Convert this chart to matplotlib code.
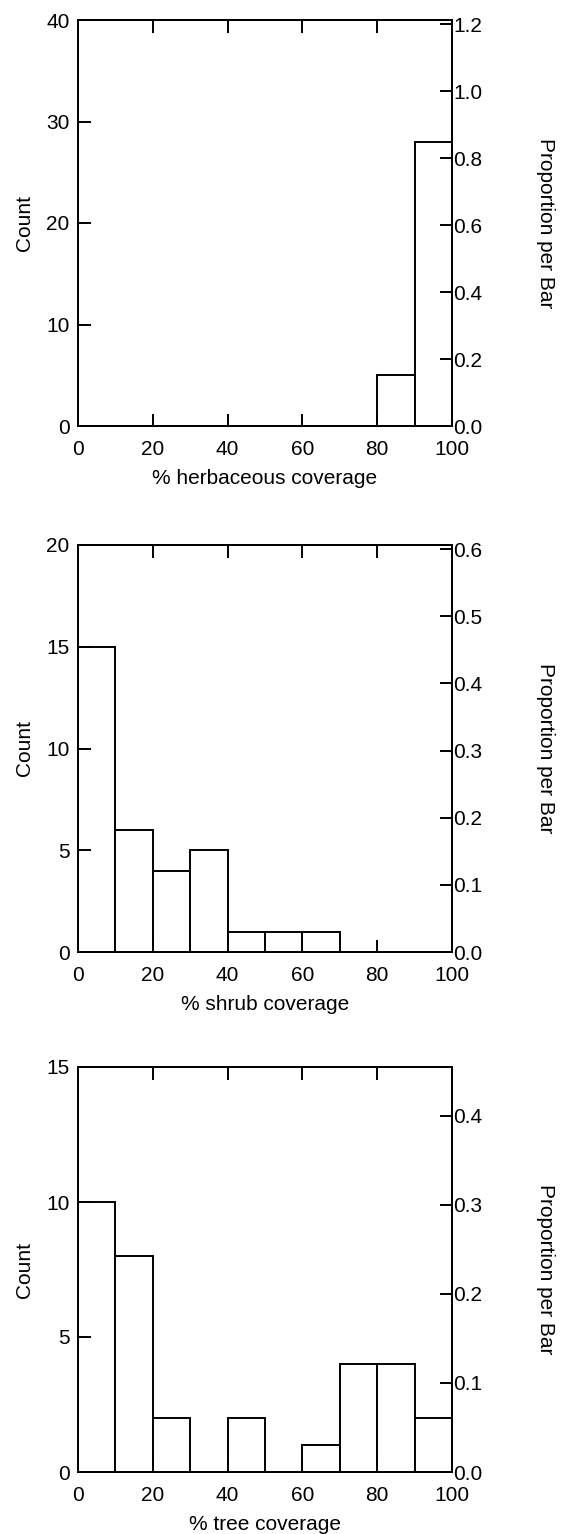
import numpy as np
import matplotlib
matplotlib.use("Agg")
import matplotlib.pyplot as plt

plt.rcParams['font.family'] = ['Liberation Sans', 'DejaVu Sans']

# bin edges (percent coverage) and counts per bin
bin_edges = [0, 10, 20, 30, 40, 50, 60, 70, 80, 90, 100]
herb_counts = [0, 0, 0, 0, 0, 0, 0, 0, 5, 28]
shrub_counts = [15, 6, 4, 5, 1, 1, 1, 0, 0, 0]
tree_counts = [10, 8, 2, 0, 2, 0, 1, 4, 4, 2]

xlabels = ['% herbaceous coverage', '% shrub coverage', '% tree coverage']
count_max = [40, 20, 15]
count_ticks = [[0, 10, 20, 30, 40], [0, 5, 10, 15, 20], [0, 5, 10, 15]]
prop_ticks = [np.arange(0, 1.21, 0.2), np.arange(0, 0.61, 0.1), np.arange(0, 0.41, 0.1)]

W, H = 564, 1534
fig = plt.figure(figsize=(W / 100, H / 100), dpi=100)

# axes boxes in pixels: (top, bottom)
boxes = [(20, 426), (545, 952), (1067, 1472)]
left_px, right_px = 78, 452

all_counts = [herb_counts, shrub_counts, tree_counts]
lw = 1.4
fs = 15

for i, counts in enumerate(all_counts):
    top, bot = boxes[i]
    ax = fig.add_axes([left_px / W, 1 - bot / H, (right_px - left_px) / W, (bot - top) / H])
    total = sum(counts)
    lefts = bin_edges[:-1]
    ax.bar(lefts, counts, width=10, align='edge', facecolor='white',
           edgecolor='black', linewidth=lw)
    ax.set_xlim(0, 100)
    ax.set_ylim(0, count_max[i])
    ax.set_xticks([0, 20, 40, 60, 80, 100])
    ax.set_yticks(count_ticks[i])
    ax.tick_params(direction='in', length=9, width=lw, labelsize=fs,
                   top=True, colors='black')
    ax.tick_params(axis='x', pad=10)
    ax.tick_params(axis='y', pad=6)
    for s in ax.spines.values():
        s.set_linewidth(lw)
    ax.set_xlabel(xlabels[i], fontsize=fs, labelpad=7)
    ax.set_ylabel('Count', fontsize=fs, labelpad=9)

    ax2 = ax.twinx()
    ax2.set_ylim(0, count_max[i] / total)
    ax2.set_yticks(prop_ticks[i])
    ax2.set_yticklabels(['%.1f' % v for v in prop_ticks[i]])
    ax2.tick_params(direction='in', length=9, width=lw, labelsize=fs, pad=1)
    for s in ax2.spines.values():
        s.set_linewidth(lw)
    ax2.set_ylabel('Proportion per Bar', fontsize=fs, rotation=-90, labelpad=52)

fig.savefig('out.png', dpi=100)
